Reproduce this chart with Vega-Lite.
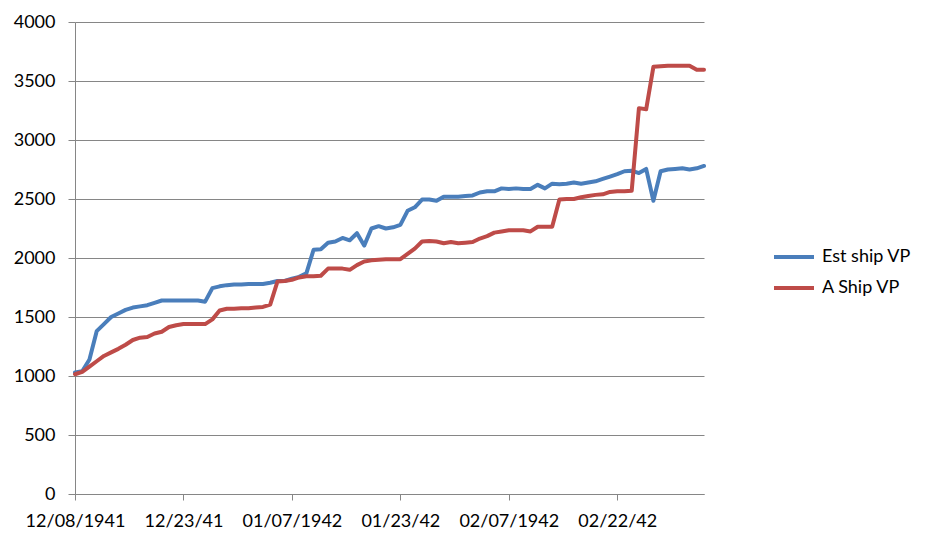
{
  "$schema": "https://vega.github.io/schema/vega-lite/v6.json",
  "autosize": {"type": "none"},
  "padding": {"left": 75, "top": 22, "right": 226, "bottom": 53},
  "width": 629,
  "height": 472,
  "background": "white",
  "config": {
    "view": {"stroke": null},
    "font": "Lato",
    "axis": {"labelFont": "Lato", "labelFontSize": 18, "labelColor": "#000000", "domainColor": "#868686", "tickColor": "#868686", "gridColor": "#868686", "domainWidth": 1, "tickWidth": 1, "gridWidth": 1},
    "legend": {"labelFont": "Lato", "labelFontSize": 18, "labelColor": "#000000"}
  },
  "data": {"values": [
    {"d":"12/08/1941","Est ship VP":1030,"A Ship VP":1015},
    {"d":"12/09/41","Est ship VP":1040,"A Ship VP":1035},
    {"d":"12/10/41","Est ship VP":1140,"A Ship VP":1080},
    {"d":"12/11/41","Est ship VP":1380,"A Ship VP":1125},
    {"d":"12/12/41","Est ship VP":1440,"A Ship VP":1170},
    {"d":"12/13/41","Est ship VP":1500,"A Ship VP":1200},
    {"d":"12/14/41","Est ship VP":1530,"A Ship VP":1230},
    {"d":"12/15/41","Est ship VP":1560,"A Ship VP":1265},
    {"d":"12/16/41","Est ship VP":1580,"A Ship VP":1305},
    {"d":"12/17/41","Est ship VP":1590,"A Ship VP":1325},
    {"d":"12/18/41","Est ship VP":1600,"A Ship VP":1330},
    {"d":"12/19/41","Est ship VP":1620,"A Ship VP":1360},
    {"d":"12/20/41","Est ship VP":1640,"A Ship VP":1375},
    {"d":"12/21/41","Est ship VP":1640,"A Ship VP":1415},
    {"d":"12/22/41","Est ship VP":1640,"A Ship VP":1430},
    {"d":"12/23/41","Est ship VP":1640,"A Ship VP":1440},
    {"d":"12/24/41","Est ship VP":1640,"A Ship VP":1440},
    {"d":"12/25/41","Est ship VP":1640,"A Ship VP":1440},
    {"d":"12/26/41","Est ship VP":1630,"A Ship VP":1440},
    {"d":"12/27/41","Est ship VP":1745,"A Ship VP":1480},
    {"d":"12/28/41","Est ship VP":1760,"A Ship VP":1555},
    {"d":"12/29/41","Est ship VP":1770,"A Ship VP":1570},
    {"d":"12/30/41","Est ship VP":1775,"A Ship VP":1570},
    {"d":"12/31/41","Est ship VP":1775,"A Ship VP":1575},
    {"d":"01/01/42","Est ship VP":1780,"A Ship VP":1575},
    {"d":"01/02/42","Est ship VP":1780,"A Ship VP":1580},
    {"d":"01/03/42","Est ship VP":1780,"A Ship VP":1585},
    {"d":"01/04/42","Est ship VP":1790,"A Ship VP":1605},
    {"d":"01/05/42","Est ship VP":1805,"A Ship VP":1800},
    {"d":"01/06/42","Est ship VP":1805,"A Ship VP":1805},
    {"d":"01/07/1942","Est ship VP":1825,"A Ship VP":1815},
    {"d":"01/08/42","Est ship VP":1840,"A Ship VP":1835},
    {"d":"01/09/42","Est ship VP":1870,"A Ship VP":1845},
    {"d":"01/10/42","Est ship VP":2070,"A Ship VP":1845},
    {"d":"01/11/42","Est ship VP":2075,"A Ship VP":1850},
    {"d":"01/12/42","Est ship VP":2130,"A Ship VP":1910},
    {"d":"01/13/42","Est ship VP":2140,"A Ship VP":1910},
    {"d":"01/14/42","Est ship VP":2170,"A Ship VP":1910},
    {"d":"01/16/42","Est ship VP":2150,"A Ship VP":1900},
    {"d":"01/17/42","Est ship VP":2210,"A Ship VP":1940},
    {"d":"01/18/42","Est ship VP":2105,"A Ship VP":1970},
    {"d":"01/19/42","Est ship VP":2250,"A Ship VP":1980},
    {"d":"01/20/42","Est ship VP":2270,"A Ship VP":1985},
    {"d":"01/21/42","Est ship VP":2250,"A Ship VP":1990},
    {"d":"01/22/42","Est ship VP":2260,"A Ship VP":1990},
    {"d":"01/23/42","Est ship VP":2280,"A Ship VP":1990},
    {"d":"01/24/42","Est ship VP":2400,"A Ship VP":2035},
    {"d":"01/25/42","Est ship VP":2430,"A Ship VP":2080},
    {"d":"01/26/42","Est ship VP":2495,"A Ship VP":2140},
    {"d":"01/27/42","Est ship VP":2495,"A Ship VP":2145},
    {"d":"01/28/42","Est ship VP":2485,"A Ship VP":2140},
    {"d":"01/29/42","Est ship VP":2520,"A Ship VP":2125},
    {"d":"01/30/42","Est ship VP":2520,"A Ship VP":2135},
    {"d":"01/31/42","Est ship VP":2520,"A Ship VP":2125},
    {"d":"02/01/42","Est ship VP":2525,"A Ship VP":2130},
    {"d":"02/02/42","Est ship VP":2530,"A Ship VP":2135},
    {"d":"02/03/42","Est ship VP":2555,"A Ship VP":2165},
    {"d":"02/04/42","Est ship VP":2565,"A Ship VP":2185},
    {"d":"02/05/42","Est ship VP":2565,"A Ship VP":2215},
    {"d":"02/06/42","Est ship VP":2590,"A Ship VP":2225},
    {"d":"02/07/1942","Est ship VP":2585,"A Ship VP":2235},
    {"d":"02/08/42","Est ship VP":2590,"A Ship VP":2235},
    {"d":"02/09/42","Est ship VP":2585,"A Ship VP":2235},
    {"d":"02/10/42","Est ship VP":2585,"A Ship VP":2225},
    {"d":"02/11/42","Est ship VP":2620,"A Ship VP":2265},
    {"d":"02/12/42","Est ship VP":2590,"A Ship VP":2265},
    {"d":"02/13/42","Est ship VP":2630,"A Ship VP":2265},
    {"d":"02/14/42","Est ship VP":2625,"A Ship VP":2495},
    {"d":"02/15/42","Est ship VP":2630,"A Ship VP":2500},
    {"d":"02/16/42","Est ship VP":2640,"A Ship VP":2500},
    {"d":"02/17/42","Est ship VP":2630,"A Ship VP":2515},
    {"d":"02/18/42","Est ship VP":2640,"A Ship VP":2525},
    {"d":"02/19/42","Est ship VP":2650,"A Ship VP":2535},
    {"d":"02/20/42","Est ship VP":2670,"A Ship VP":2540},
    {"d":"02/21/42","Est ship VP":2690,"A Ship VP":2560},
    {"d":"02/22/42","Est ship VP":2710,"A Ship VP":2565},
    {"d":"02/23/42","Est ship VP":2735,"A Ship VP":2565},
    {"d":"02/24/42","Est ship VP":2740,"A Ship VP":2570},
    {"d":"02/25/42","Est ship VP":2720,"A Ship VP":3270},
    {"d":"02/26/42","Est ship VP":2755,"A Ship VP":3260},
    {"d":"02/27/42","Est ship VP":2485,"A Ship VP":3620},
    {"d":"02/28/42","Est ship VP":2735,"A Ship VP":3625},
    {"d":"03/01/42","Est ship VP":2750,"A Ship VP":3630},
    {"d":"03/02/42","Est ship VP":2755,"A Ship VP":3630},
    {"d":"03/03/42","Est ship VP":2760,"A Ship VP":3630},
    {"d":"03/04/42","Est ship VP":2750,"A Ship VP":3630},
    {"d":"03/05/42","Est ship VP":2760,"A Ship VP":3595},
    {"d":"03/06/42","Est ship VP":2780,"A Ship VP":3595}
  ]},
  "transform": [{"fold": ["Est ship VP", "A Ship VP"], "as": ["series", "vp"]}],
  "mark": {"type": "line", "strokeWidth": 4, "strokeJoin": "round", "strokeCap": "round"},
  "encoding": {
    "x": {
      "field": "d", "type": "ordinal", "sort": null,
      "scale": {"type": "point", "padding": 0},
      "axis": {"title": null, "labelAngle": 0, "values": ["12/08/1941", "12/23/41", "01/07/1942", "01/23/42", "02/07/1942", "02/22/42"], "tickSize": 6, "labelPadding": 12, "grid": false}
    },
    "y": {
      "field": "vp", "type": "quantitative",
      "scale": {"domain": [0, 4000], "nice": false},
      "axis": {"title": null, "format": "d", "values": [0, 500, 1000, 1500, 2000, 2500, 3000, 3500, 4000], "tickSize": 7, "labelPadding": 13, "grid": true}
    },
    "color": {
      "field": "series", "type": "nominal",
      "scale": {"domain": ["Est ship VP", "A Ship VP"], "range": ["#4A7EBB", "#BE4B48"]},
      "legend": {"title": null, "orient": "none", "legendX": 697, "legendY": 213, "padding": 0, "symbolType": "stroke", "symbolSize": 1600, "symbolStrokeWidth": 4, "labelOffset": 6, "rowPadding": 0}
    }
  }
}
